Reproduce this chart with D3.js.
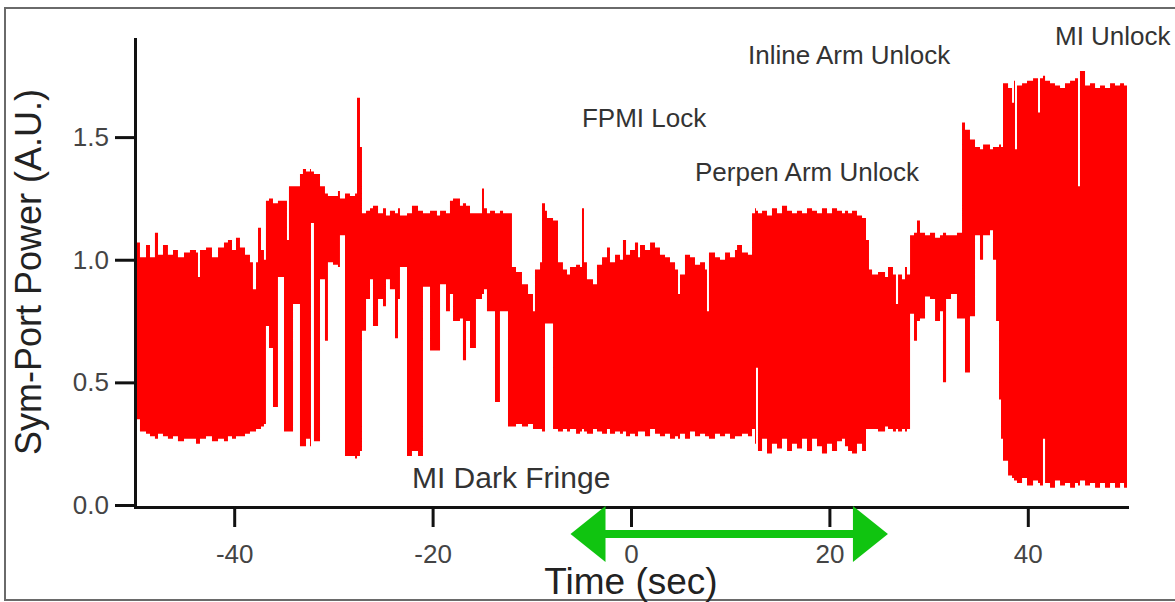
<!DOCTYPE html>
<html>
<head>
<meta charset="utf-8">
<script src="https://cdn.jsdelivr.net/npm/d3@7"></script>
<style>
  body { margin: 0; background: #fff; }
  svg { display: block; font-family: "Liberation Sans", Arial, sans-serif; }
</style>
</head>
<body>
<svg width="1175" height="602" viewBox="0 0 1175 602"></svg>
<script>
// Sym-port power envelope (min / max of the fast trace), knots in seconds
const timeSec = [
  -49.80, -49.50, -48.89, -48.49, -47.99, -47.68, -47.18, -46.68, -46.17, -45.67,
  -45.06, -44.46, -43.85, -43.65, -43.45, -42.84, -42.24, -41.63, -41.03, -40.63,
  -40.22, -39.82, -39.42, -38.91, -38.41, -38.11, -37.80, -37.60, -37.30, -37.00,
  -36.80, -36.49, -36.09, -35.59, -34.98, -34.68, -34.48, -34.07, -33.37, -33.07,
  -32.76, -32.36, -32.26, -31.96, -31.35, -30.85, -30.55, -30.04, -29.54, -29.34,
  -28.83, -28.33, -27.82, -27.62, -27.32, -27.12, -26.71, -26.31, -26.01, -25.50,
  -25.00, -24.70, -24.30, -23.79, -23.49, -23.29, -22.58, -22.08, -21.47, -20.97,
  -20.26, -19.56, -19.25, -18.65, -18.25, -17.94, -17.24, -16.94, -16.63, -16.23,
  -15.63, -15.02, -14.82, -14.52, -14.21, -13.71, -13.21, -12.90, -12.40, -12.00,
  -11.59, -10.99, -10.38, -9.88, -9.68, -9.17, -8.97, -8.67, -8.47, -7.86,
  -7.36, -6.86, -6.45, -6.15, -5.54, -5.14, -4.94, -4.74, -4.44, -3.83,
  -3.43, -2.92, -2.42, -2.12, -1.61, -1.11, -0.81, -0.50, -0.10, 0.40,
  0.71, 0.91, 1.41, 1.92, 2.42, 2.92, 3.43, 3.93, 4.44, 4.74,
  4.94, 5.44, 5.95, 6.45, 6.96, 7.46, 7.66, 7.86, 8.47, 8.97,
  9.48, 9.98, 10.48, 10.69, 11.19, 11.79, 12.20, 12.50, 12.60, 12.80,
  13.21, 13.71, 14.21, 14.72, 15.22, 15.73, 16.23, 16.73, 17.24, 17.74,
  18.25, 18.75, 19.25, 19.76, 20.26, 20.77, 21.27, 21.57, 21.88, 22.28,
  22.78, 23.29, 23.69, 23.99, 24.30, 24.90, 25.61, 25.91, 26.41, 26.71,
  26.92, 27.32, 27.62, 27.82, 28.13, 28.53, 28.83, 29.13, 29.64, 30.14,
  30.65, 31.15, 31.45, 31.76, 32.26, 32.86, 33.37, 33.67, 34.17, 34.68,
  35.18, 35.49, 36.19, 36.49, 36.80, 37.10, 37.30, 37.50, 38.01, 38.41,
  38.61, 38.71, 38.91, 39.42, 39.92, 40.53, 41.03, 41.23, 41.53, 41.74,
  42.24, 42.74, 43.25, 43.75, 44.26, 44.76, 45.06, 45.26, 45.77, 46.27,
  46.78, 47.28, 47.78, 48.29, 48.79, 49.30, 49.70, 50.00
];
const upperPower = [
  1.07, 1.01, 1.06, 1.01, 1.11, 1.02, 1.06, 1.02, 1.04, 1.01,
  1.03, 1.04, 1.03, 0.93, 1.04, 1.05, 1.01, 1.05, 1.07, 1.08,
  1.04, 1.09, 1.05, 1.02, 0.99, 0.88, 0.99, 1.13, 1.04, 1.00,
  1.24, 1.25, 1.23, 1.24, 1.24, 1.08, 1.30, 1.30, 1.35, 1.37,
  1.36, 1.37, 1.36, 1.35, 1.30, 1.27, 1.26, 1.26, 1.28, 1.25,
  1.27, 1.26, 1.27, 1.66, 1.46, 1.19, 1.20, 1.21, 1.22, 1.19,
  1.21, 1.18, 1.20, 1.19, 1.21, 1.18, 1.19, 1.22, 1.20, 1.19,
  1.20, 1.18, 1.20, 1.19, 1.24, 1.25, 1.22, 1.23, 1.22, 1.19,
  1.19, 1.29, 1.21, 1.19, 1.20, 1.19, 1.20, 1.19, 1.19, 0.97,
  0.95, 0.90, 0.86, 0.79, 0.96, 0.99, 1.23, 1.20, 1.17, 1.16,
  0.99, 0.96, 0.94, 0.97, 0.98, 0.97, 1.21, 0.99, 0.92, 0.90,
  0.98, 1.01, 1.05, 0.99, 1.02, 1.00, 1.08, 1.02, 1.04, 1.07,
  1.01, 1.06, 1.04, 1.07, 1.05, 1.02, 1.01, 0.99, 0.96, 0.86,
  0.94, 1.02, 1.01, 0.98, 0.99, 0.96, 0.79, 1.03, 1.01, 1.00,
  1.03, 1.01, 1.04, 1.06, 1.03, 1.02, 1.19, 1.21, 1.20, 1.19,
  1.20, 1.18, 1.21, 1.19, 1.22, 1.20, 1.19, 1.20, 1.19, 1.21,
  1.20, 1.19, 1.21, 1.19, 1.21, 1.20, 1.19, 1.20, 1.19, 1.20,
  1.18, 1.17, 1.08, 0.96, 0.94, 0.95, 0.93, 0.97, 0.94, 0.82,
  0.94, 0.92, 0.97, 0.94, 1.10, 1.11, 1.16, 1.11, 1.10, 1.11,
  1.09, 1.10, 1.11, 1.10, 1.10, 1.11, 1.56, 1.53, 1.49, 1.46,
  1.45, 1.47, 1.45, 1.46, 1.46, 1.47, 1.46, 1.72, 1.70, 1.64,
  1.73, 1.45, 1.71, 1.72, 1.73, 1.74, 1.60, 1.74, 1.75, 1.73,
  1.72, 1.71, 1.70, 1.72, 1.73, 1.74, 1.30, 1.77, 1.71, 1.72,
  1.70, 1.71, 1.70, 1.72, 1.71, 1.72, 1.71, 1.71
];
const lowerPower = [
  0.35, 0.30, 0.29, 0.28, 0.27, 0.29, 0.28, 0.27, 0.28, 0.26,
  0.27, 0.27, 0.25, 0.25, 0.27, 0.28, 0.26, 0.27, 0.26, 0.28,
  0.27, 0.28, 0.28, 0.29, 0.30, 0.30, 0.31, 0.31, 0.32, 0.33,
  0.73, 0.64, 0.40, 0.93, 0.30, 0.30, 0.30, 0.82, 0.24, 0.24,
  0.27, 0.24, 1.15, 0.26, 0.92, 0.67, 0.99, 0.98, 0.97, 1.10,
  0.20, 0.20, 0.19, 0.20, 0.22, 0.71, 0.84, 0.92, 0.73, 0.84,
  0.81, 0.92, 0.88, 0.68, 0.84, 0.97, 0.20, 0.22, 0.20, 0.89,
  0.63, 0.63, 0.90, 0.79, 0.86, 0.75, 0.76, 0.59, 0.75, 0.64,
  0.84, 0.86, 0.88, 0.79, 0.79, 0.42, 0.79, 0.79, 0.32, 0.32,
  0.33, 0.32, 0.33, 0.31, 0.31, 0.31, 0.30, 0.74, 0.74, 0.31,
  0.30, 0.31, 0.30, 0.31, 0.29, 0.30, 0.31, 0.30, 0.29, 0.31,
  0.30, 0.29, 0.31, 0.29, 0.30, 0.29, 0.30, 0.28, 0.29, 0.28,
  0.30, 0.30, 0.28, 0.31, 0.29, 0.28, 0.29, 0.27, 0.28, 0.27,
  0.29, 0.27, 0.30, 0.28, 0.29, 0.28, 0.28, 0.27, 0.29, 0.28,
  0.29, 0.27, 0.28, 0.28, 0.29, 0.28, 0.31, 0.25, 0.56, 0.22,
  0.27, 0.21, 0.25, 0.23, 0.27, 0.22, 0.25, 0.23, 0.27, 0.22,
  0.27, 0.24, 0.21, 0.25, 0.22, 0.26, 0.27, 0.24, 0.22, 0.21,
  0.25, 0.22, 0.31, 0.31, 0.31, 0.30, 0.32, 0.31, 0.30, 0.31,
  0.30, 0.31, 0.30, 0.31, 0.78, 0.67, 0.75, 0.76, 0.85, 0.84,
  0.75, 0.79, 0.50, 0.84, 0.86, 0.76, 0.76, 0.54, 0.77, 1.10,
  1.00, 1.10, 1.12, 1.00, 0.75, 0.43, 0.27, 0.18, 0.12, 0.11,
  0.10, 0.10, 0.09, 0.11, 0.08, 0.10, 0.09, 0.08, 0.27, 0.09,
  0.07, 0.10, 0.08, 0.09, 0.07, 0.09, 0.08, 0.10, 0.08, 0.09,
  0.07, 0.09, 0.07, 0.09, 0.07, 0.09, 0.07, 0.07
];

const xTickValues = [-40, -20, 0, 20, 40];
const yTickValues = [0.0, 0.5, 1.0, 1.5];

// state annotations, anchored at (time, power) of their left baseline
const noteLabels = ["FPMI Lock", "Inline Arm Unlock", "Perpen Arm Unlock", "MI Unlock", "MI Dark Fringe"];
const noteTime = [-4.94, 11.79, 6.45, 42.74, -22.08];
const notePower = [1.54, 1.80, 1.32, 1.875, 0.07];
const noteSize = [26, 26, 26, 26, 30];

// green double arrow under the time axis (seconds)
const arrowSpan = [-6.1, 25.9];

const svg = d3.select("svg");

const x = d3.scaleLinear().domain([-50, 50]).range([135, 1127]);
const y = d3.scaleLinear().domain([0, 1.9]).range([505, 39]);

// outer frame
svg.append("rect")
    .attr("x", 5).attr("y", 8)
    .attr("width", 1190).attr("height", 592)
    .attr("fill", "none")
    .attr("stroke", "#6a6a6a")
    .attr("stroke-width", 2);

// signal band
const signal = timeSec.map((t, i) => ({ t, hi: upperPower[i], lo: lowerPower[i] }));
const band = d3.area()
    .x(d => x(d.t))
    .y0(d => y(d.lo))
    .y1(d => y(d.hi))
    .curve(d3.curveStepAfter);

svg.append("path")
    .datum(signal)
    .attr("d", band)
    .attr("fill", "#ff0000");

// axes
const yAxis = d3.axisLeft(y)
    .tickValues(yTickValues)
    .tickFormat(d3.format(".1f"))
    .tickSize(20)
    .tickSizeOuter(0)
    .tickPadding(6);

const xAxis = d3.axisBottom(x)
    .tickValues(xTickValues)
    .tickFormat(d => String(d))
    .tickSize(20)
    .tickSizeOuter(0)
    .tickPadding(18);

const gy = svg.append("g").attr("transform", "translate(135,0)").call(yAxis);
const gx = svg.append("g").attr("transform", "translate(0,507)").call(xAxis);

[gx, gy].forEach(g => {
    g.selectAll("path, line").attr("stroke", "#111").attr("stroke-width", 3);
    g.select(".domain").attr("stroke-linecap", "square");
    g.selectAll("text")
        .attr("fill", "#444")
        .style("font-size", "26px")
        .style("font-family", "'Liberation Sans', Arial, sans-serif");
});

// axis titles
svg.append("text")
    .attr("x", 631).attr("y", 594)
    .attr("text-anchor", "middle")
    .attr("fill", "#222")
    .style("font-size", "37px")
    .text("Time (sec)");

svg.append("text")
    .attr("transform", "translate(41,272) rotate(-90)")
    .attr("text-anchor", "middle")
    .attr("fill", "#222")
    .style("font-size", "36px")
    .text("Sym-Port Power (A.U.)");

// annotations
svg.append("g")
    .selectAll("text")
    .data(noteLabels)
    .join("text")
    .attr("x", (d, i) => x(noteTime[i]))
    .attr("y", (d, i) => y(notePower[i]))
    .attr("fill", "#333")
    .style("font-size", (d, i) => noteSize[i] + "px")
    .text(d => d);

// double arrow
const ay = 534, headLen = 35, headHalf = 28;
const ax0 = x(arrowSpan[0]), ax1 = x(arrowSpan[1]);
const arrow = svg.append("g").attr("fill", "#10c410").attr("stroke", "#10c410");
arrow.append("line")
    .attr("x1", ax0 + headLen - 2).attr("x2", ax1 - headLen + 2)
    .attr("y1", ay).attr("y2", ay)
    .attr("stroke-width", 8);
arrow.append("path")
    .attr("stroke", "none")
    .attr("d", `M${ax0},${ay}L${ax0 + headLen},${ay - headHalf}L${ax0 + headLen},${ay + headHalf}Z`);
arrow.append("path")
    .attr("stroke", "none")
    .attr("d", `M${ax1},${ay}L${ax1 - headLen},${ay - headHalf}L${ax1 - headLen},${ay + headHalf}Z`);
</script>
</body>
</html>
